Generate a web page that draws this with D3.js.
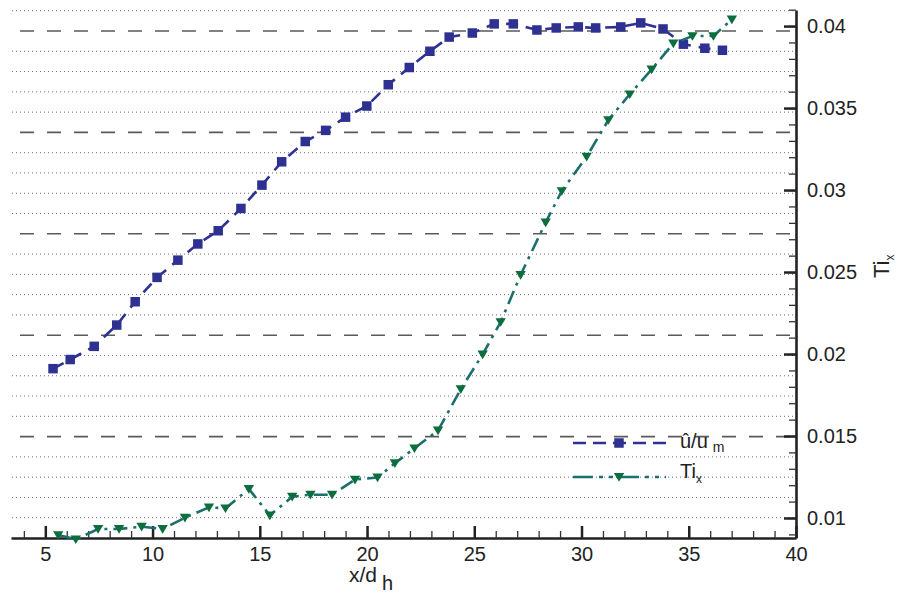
<!DOCTYPE html>
<html>
<head>
<meta charset="utf-8">
<script src="https://cdn.jsdelivr.net/npm/d3@7/dist/d3.min.js"></script>
<style>
  html, body { margin: 0; padding: 0; background: #fff; }
  svg { display: block; font-family: "Liberation Sans", Arial, Helvetica, sans-serif; }
</style>
</head>
<body>
<svg id="chart" width="899" height="593"></svg>
<script>
// Streamwise positions x/d_h and normalised velocity û/u_m (left, unlabelled scale)
const uX = [5.36, 6.16, 7.28, 8.33, 9.19, 10.21, 11.18, 12.11, 13.06, 14.12, 15.10,
            16.02, 17.12, 18.07, 19.00, 19.99, 20.99, 21.97, 22.93, 23.83, 24.91,
            25.93, 26.82, 27.92, 28.82, 29.85, 30.66, 31.83, 32.76, 33.80, 34.75,
            35.75, 36.57];
const uVal = [0.667, 0.676, 0.689, 0.710, 0.733, 0.757, 0.774, 0.790, 0.803, 0.825, 0.848,
              0.871, 0.891, 0.902, 0.915, 0.926, 0.947, 0.964, 0.980, 0.994, 0.998,
              1.007, 1.007, 1.001, 1.003, 1.004, 1.003, 1.004, 1.008, 1.002, 0.987,
              0.983, 0.981];

// Turbulence intensity Ti_x (right scale)
const tiX = [5.60, 6.42, 7.46, 8.44, 9.49, 10.47, 11.51, 12.63, 13.40, 14.49, 15.47,
             16.51, 17.36, 18.37, 19.44, 20.49, 21.30, 22.21, 23.31, 24.37, 25.39,
             26.23, 27.16, 28.33, 29.08, 30.24, 31.25, 32.25, 33.27, 34.28, 35.17,
             36.15, 37.01];
const tiVal = [0.00896, 0.00870, 0.00933, 0.00933, 0.00947, 0.00933, 0.01002, 0.01065, 0.01059,
               0.01177, 0.01016, 0.01130, 0.01142, 0.01142, 0.01234, 0.01247, 0.01334, 0.01425,
               0.01534, 0.01785, 0.01998, 0.02195, 0.02482, 0.02803, 0.02994, 0.03203, 0.03427,
               0.03584, 0.03736, 0.03894, 0.03939, 0.03939, 0.04041];

// Tick values
const xMajorTicks = [5, 10, 15, 20, 25, 30, 35, 40];
const xMinorTicks = d3.range(4, 41, 1);
const tiMajorTicks = [0.01, 0.015, 0.02, 0.025, 0.03, 0.035, 0.04];
const tiMinorTicks = d3.range(9, 42).map(d => d / 1000);
const uMajorGrid = [0.6, 0.7, 0.8, 0.9, 1.0];
const uMinorGrid = d3.range(26, 52).map(d => d / 50).filter(v => Math.abs(v * 10 - Math.round(v * 10)) > 1e-6);

const svg = d3.select("#chart");

const x = d3.scaleLinear().domain([3.4, 40]).range([11, 796]);
const yTi = d3.scaleLinear().domain([0.00878, 0.04098]).range([538, 10]);
const yU = d3.scaleLinear().domain([0.5, 1.0207]).range([538, 10]);

const blue = "#2e3192";
const tealLine = "#1b6f6c";
const greenMark = "#0c6e3e";

// grid lines belonging to the û/u_m scale
const grid = svg.append("g");
grid.selectAll("line.minor").data(uMinorGrid).join("line")
  .attr("class", "minor")
  .attr("x1", 12).attr("x2", 793)
  .attr("y1", d => yU(d)).attr("y2", d => yU(d))
  .attr("stroke", "#6e6e6e").attr("stroke-width", 1)
  .attr("stroke-dasharray", "1,3");
grid.selectAll("line.major").data(uMajorGrid).join("line")
  .attr("class", "major")
  .attr("x1", 20).attr("x2", 790)
  .attr("y1", d => yU(d)).attr("y2", d => yU(d))
  .attr("stroke", "#5a5a5a").attr("stroke-width", 1.6)
  .attr("stroke-dasharray", "14,13");

// bottom axis
const gx = svg.append("g").attr("transform", "translate(0,538)");
gx.call(d3.axisBottom(x).tickValues(xMinorTicks).tickSizeInner(-7).tickSizeOuter(0).tickFormat(""))
  .call(g => g.selectAll(".tick line").attr("stroke", "#333").attr("stroke-width", 1.3));
gx.append("g").call(d3.axisBottom(x).tickValues(xMajorTicks).tickSizeInner(-12).tickSizeOuter(0).tickPadding(9))
  .call(g => g.select(".domain").remove())
  .call(g => g.selectAll(".tick line").attr("stroke", "#222").attr("stroke-width", 2.5))
  .call(g => g.selectAll(".tick text").attr("font-size", 20).attr("fill", "#222")
    .attr("font-family", "'Liberation Sans', Arial, sans-serif"));
gx.select(".domain").attr("stroke", "#222").attr("stroke-width", 2.6);

// right axis (Ti_x)
const gy = svg.append("g").attr("transform", "translate(796,0)");
gy.call(d3.axisRight(yTi).tickValues(tiMinorTicks).tickSizeInner(-7).tickSizeOuter(0).tickFormat(""))
  .call(g => g.selectAll(".tick line").attr("stroke", "#333").attr("stroke-width", 1.3));
gy.append("g").call(d3.axisRight(yTi).tickValues(tiMajorTicks).tickSizeInner(-12).tickSizeOuter(0)
    .tickPadding(11).tickFormat(d3.format("~g")))
  .call(g => g.select(".domain").remove())
  .call(g => g.selectAll(".tick line").attr("stroke", "#222").attr("stroke-width", 2.5))
  .call(g => g.selectAll(".tick text").attr("font-size", 20).attr("fill", "#222")
    .attr("font-family", "'Liberation Sans', Arial, sans-serif"));
gy.select(".domain").attr("stroke", "#222").attr("stroke-width", 2.6);

// axis titles
const xt = svg.append("text").attr("x", 349).attr("y", 582)
  .attr("font-size", 21).attr("fill", "#222");
xt.append("tspan").text("x/d");
xt.append("tspan").attr("dx", 5).attr("dy", 8).attr("font-size", 20).text("h");

const yt = svg.append("text").attr("transform", "translate(889,278) rotate(-90)")
  .attr("font-size", 22).attr("fill", "#222");
yt.append("tspan").text("Ti");
yt.append("tspan").attr("dy", 5).attr("font-size", 12).text("x");

// series
const uPts = uX.map((d, i) => [d, uVal[i]]);
const tiPts = tiX.map((d, i) => [d, tiVal[i]]);

svg.append("path").datum(uPts)
  .attr("d", d3.line().x(d => x(d[0])).y(d => yU(d[1])))
  .attr("fill", "none").attr("stroke", blue).attr("stroke-width", 2.6)
  .attr("stroke-dasharray", "12,8");
svg.append("g").selectAll("rect").data(uPts).join("rect")
  .attr("x", d => x(d[0]) - 4.75).attr("y", d => yU(d[1]) - 4.75)
  .attr("width", 9.5).attr("height", 9.5).attr("fill", blue);

const tri = "M-5.2,-3.9L5.2,-3.9L0,4.8Z";
svg.append("path").datum(tiPts)
  .attr("d", d3.line().x(d => x(d[0])).y(d => yTi(d[1])))
  .attr("fill", "none").attr("stroke", tealLine).attr("stroke-width", 2.6)
  .attr("stroke-dasharray", "14,6,3,6");
svg.append("g").selectAll("path").data(tiPts).join("path")
  .attr("transform", d => `translate(${x(d[0])},${yTi(d[1])})`)
  .attr("d", tri).attr("fill", greenMark);

// legend
const leg = svg.append("g");
leg.append("line").attr("x1", 573).attr("x2", 666).attr("y1", 443).attr("y2", 443)
  .attr("stroke", blue).attr("stroke-width", 2.6).attr("stroke-dasharray", "13,7");
leg.append("rect").attr("x", 619 - 4.75).attr("y", 443 - 4.75).attr("width", 9.5).attr("height", 9.5).attr("fill", blue);
const l1 = leg.append("text").attr("x", 680).attr("y", 448).attr("font-size", 20).attr("fill", "#222");
l1.append("tspan").text("û/u");
l1.append("tspan").attr("dx", 5).attr("dy", 4).attr("font-size", 14).text("m");

leg.append("line").attr("x1", 573).attr("x2", 666).attr("y1", 477).attr("y2", 477)
  .attr("stroke", tealLine).attr("stroke-width", 2.6).attr("stroke-dasharray", "20,6,4,6,4,6");
leg.append("path").attr("transform", "translate(619,477)").attr("d", tri).attr("fill", greenMark);
const l2 = leg.append("text").attr("x", 680).attr("y", 478).attr("font-size", 20).attr("fill", "#222");
l2.append("tspan").text("Ti");
l2.append("tspan").attr("dy", 5).attr("font-size", 12).text("x");
</script>
</body>
</html>
